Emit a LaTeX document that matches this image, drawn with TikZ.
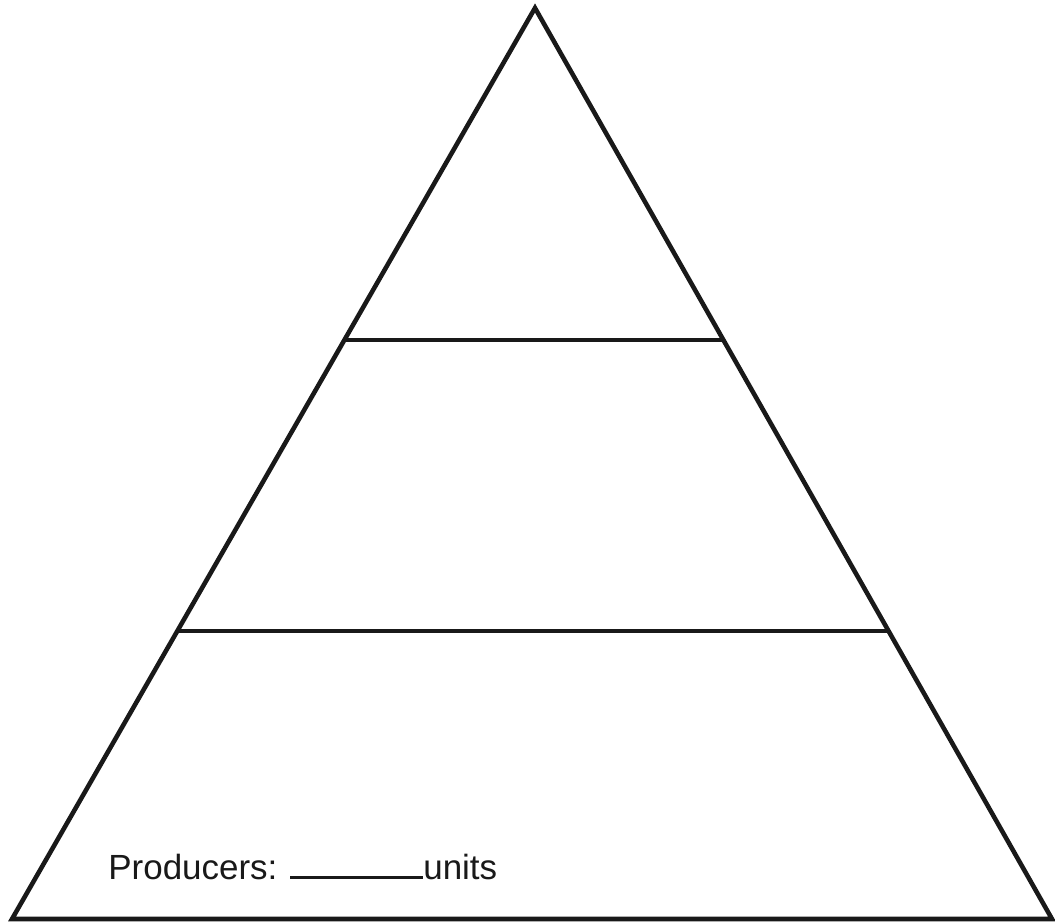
\documentclass[tikz,border=0pt]{standalone}
\usepackage{fontspec}
\setmainfont{Liberation Sans}
\usepackage{tikz}
\usetikzlibrary{calc}
\tikzset{
  pyramid/.style={line width=2.6pt,draw=black!90,line join=miter},
  tier/.style={line width=2.6pt,draw=black!90},
  label/.style={font=\fontsize{19.9}{24}\selectfont,text=black!90,inner sep=0pt,anchor=base west},
}

\begin{document}
\begin{tikzpicture}[x=0.02cm,y=-0.02cm]
  \useasboundingbox (0,0) rectangle (1055,922);

  % corners of the pyramid
  \coordinate (apex) at (535,8);
  \coordinate (baseL) at (12,919);
  \coordinate (baseR) at (1052,919);

  \draw[pyramid] (apex) -- (baseR) -- (baseL) -- cycle;

  % tier lines
  \draw[tier] ($(apex)!0.3644!(baseL)$) coordinate (upperL)
    -- ($(apex)!0.3644!(baseR)$) coordinate (upperR);
  \draw[tier] ($(apex)!0.6839!(baseL)$) coordinate (lowerL)
    -- ($(apex)!0.6839!(baseR)$) coordinate (lowerR);

  \node[label] (producers) at (108,879)
    {Producers: \rule[0pt]{2.66cm}{0.06cm}units};
\end{tikzpicture}
\end{document}
